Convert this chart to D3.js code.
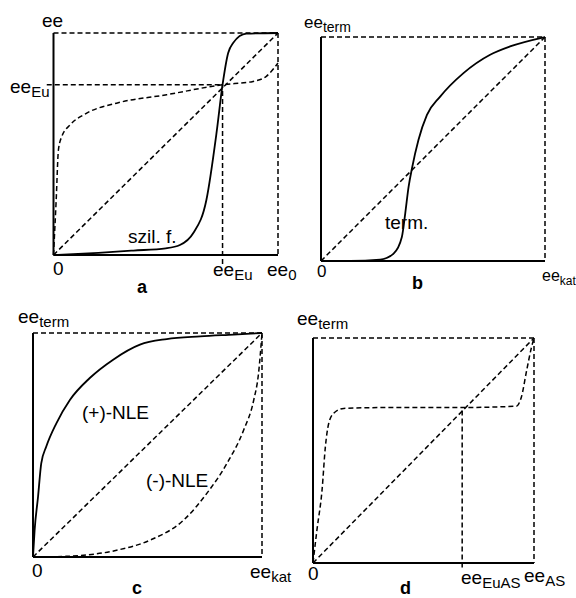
<!DOCTYPE html>
<html>
<head>
<meta charset="utf-8">
<script src="https://cdn.jsdelivr.net/npm/d3@7"></script>
<style>
  body { margin: 0; background: #fff; }
  text { font-family: "Liberation Sans", Arial, sans-serif; fill: #000; }
</style>
</head>
<body>
<script>
// --- data (normalised 0..1 on both axes) ---
var diagX = [0, 1];
var diagY = [0, 1];

// a: szil. f. (solid) and the plateau curve (dashed)
var szilX = [0, 0.2, 0.356, 0.5, 0.563, 0.622, 0.681, 0.726, 0.753, 0.778, 0.8, 0.859, 1];
var szilY = [0, 0.01, 0.02, 0.03, 0.045, 0.098, 0.248, 0.549, 0.767, 0.91, 0.955, 0.997, 1];
var aPlatX = [0, 0.012, 0.022, 0.037, 0.074, 0.148, 0.281, 0.504, 0.753, 0.889, 0.948, 1];
var aPlatY = [0, 0.248, 0.474, 0.534, 0.586, 0.639, 0.684, 0.722, 0.767, 0.782, 0.805, 0.865];
var eeEuX = 0.753, eeEuY = 0.767;

// b: term.
var termX = [0, 0.13, 0.264, 0.324, 0.361, 0.376, 0.391, 0.406, 0.435, 0.473, 0.532, 0.636, 0.755, 0.844, 1];
var termY = [0, 0, 0.006, 0.033, 0.107, 0.212, 0.331, 0.413, 0.54, 0.652, 0.734, 0.839, 0.921, 0.958, 1];

// c: (+)-NLE (solid), (-)-NLE (dashed)
var plusX = [0, 0.007, 0.022, 0.036, 0.058, 0.102, 0.161, 0.248, 0.35, 0.467, 0.584, 0.73, 0.876, 1];
var plusY = [0, 0.119, 0.269, 0.418, 0.493, 0.597, 0.701, 0.799, 0.881, 0.948, 0.973, 0.985, 0.993, 1];
var minusX = [0, 0.146, 0.365, 0.511, 0.657, 0.759, 0.847, 0.92, 0.964, 0.985, 1];
var minusY = [0, 0.003, 0.03, 0.075, 0.164, 0.284, 0.418, 0.567, 0.701, 0.821, 1];

// d: plateau curve
var dPlatX = [0, 0.018, 0.041, 0.056, 0.071, 0.093, 0.139, 0.349, 0.675, 0.92, 0.943, 0.967, 0.989, 1];
var dPlatY = [0, 0.148, 0.325, 0.517, 0.62, 0.665, 0.687, 0.691, 0.691, 0.697, 0.738, 0.857, 0.96, 1];
var eeEuASX = 0.675, eeEuASY = 0.691;

// labels
var panelNames = ["a", "b", "c", "d"];
var yLabels = [["ee", ""], ["ee", "term"], ["ee", "term"], ["ee", "term"]];
var xLabels = [["ee", "0"], ["ee", "kat"], ["ee", "kat"], ["ee", "AS"]];
var curveNames = ["szil. f.", "term.", "(+)-NLE", "(-)-NLE"];

// small stand-in for d3-selection-multi
d3.selection.prototype.attrs = function (o) {
    for (var k in o) this.attr(k, o[k]);
    return this;
};

var W = 576, H = 598;
var svg = d3.select("body").append("svg").attr("width", W).attr("height", H);

var dash = "5,3";

function zip(xs, ys) { return xs.map(function (x, i) { return [x, ys[i]]; }); }

function panel(L, R, T, B) {
    var x = d3.scaleLinear().domain([0, 1]).range([L, R]);
    var y = d3.scaleLinear().domain([0, 1]).range([B, T]);
    var g = svg.append("g");
    // frame: solid left & bottom, dashed top & right
    g.append("line").attrs({ x1: x(0), y1: y(0), x2: x(1), y2: y(0), stroke: "#000", "stroke-width": 2 });
    g.append("line").attrs({ x1: x(0), y1: y(0), x2: x(0), y2: y(1), stroke: "#000", "stroke-width": 2 });
    g.append("line").attrs({ x1: x(0), y1: y(1), x2: x(1), y2: y(1), stroke: "#000", "stroke-width": 1.5, "stroke-dasharray": dash });
    g.append("line").attrs({ x1: x(1), y1: y(1), x2: x(1), y2: y(0), stroke: "#000", "stroke-width": 1.5, "stroke-dasharray": dash });
    return { x: x, y: y, g: g };
}

function curve(p, xs, ys, dashed) {
    var line = d3.line().x(function (d) { return p.x(d[0]); }).y(function (d) { return p.y(d[1]); })
        .curve(d3.curveMonotoneX);
    p.g.append("path").datum(zip(xs, ys)).attrs({
        d: line, fill: "none", stroke: "#000",
        "stroke-width": dashed ? 1.5 : 1.8,
        "stroke-dasharray": dashed ? dash : null
    });
}

function guide(p, x1, y1, x2, y2) {
    p.g.append("line").attrs({ x1: p.x(x1), y1: p.y(y1), x2: p.x(x2), y2: p.y(y2),
        stroke: "#000", "stroke-width": 1.5, "stroke-dasharray": dash });
}

function label(x, y, main, sub, size, bold, subSize) {
    size = size || 19;
    var t = svg.append("text").attrs({ x: x, y: y, "font-size": bold ? 18 : size,
        "font-weight": bold ? "bold" : null }).text(main);
    if (sub) t.append("tspan").attrs({ "font-size": subSize || Math.round(size * 0.8), dy: 4 }).text(sub);
    return t;
}

// a
var pa = panel(53.5, 278, 33, 255);
curve(pa, diagX, diagY, true);
curve(pa, aPlatX, aPlatY, true);
curve(pa, szilX, szilY, false);
guide(pa, -0.03, eeEuY, eeEuX, eeEuY);
guide(pa, eeEuX, -0.04, eeEuX, eeEuY);
label(42, 27, yLabels[0][0]);
label(10, 93, "ee", "Eu");
label(53, 275, "0");
label(213, 276, "ee", "Eu");
label(267, 276, xLabels[0][0], xLabels[0][1]);
label(137, 293, panelNames[0], null, 18, true);
label(128, 243, curveNames[0]);

// b
var pb = panel(321, 545, 37, 261);
curve(pb, diagX, diagY, true);
curve(pb, termX, termY, false);
label(304, 28, yLabels[1][0], yLabels[1][1], 17);
label(317, 277, "0", null, 17);
label(542, 281, xLabels[1][0], xLabels[1][1], 16, false, 12);
label(412, 289, panelNames[1], null, 18, true);
label(385, 229, curveNames[1]);

// c
var pc = panel(33, 262, 333, 557);
curve(pc, diagX, diagY, true);
curve(pc, minusX, minusY, true);
curve(pc, plusX, plusY, false);
label(18, 323, yLabels[2][0], yLabels[2][1]);
label(32, 577, "0");
label(250, 578, xLabels[2][0], xLabels[2][1]);
label(132, 594, panelNames[2], null, 18, true);
label(82, 419, curveNames[2]);
label(146, 487, curveNames[3]);

// d
var pd = panel(313, 534, 338, 563);
curve(pd, diagX, diagY, true);
curve(pd, dPlatX, dPlatY, true);
guide(pd, eeEuASX, -0.02, eeEuASX, eeEuASY);
label(297, 325, yLabels[3][0], yLabels[3][1]);
label(308, 580, "0");
label(461, 584, "ee", "EuAS");
label(524, 582, xLabels[3][0], xLabels[3][1]);
label(400, 594, panelNames[3], null, 18, true);
</script>
</body>
</html>
